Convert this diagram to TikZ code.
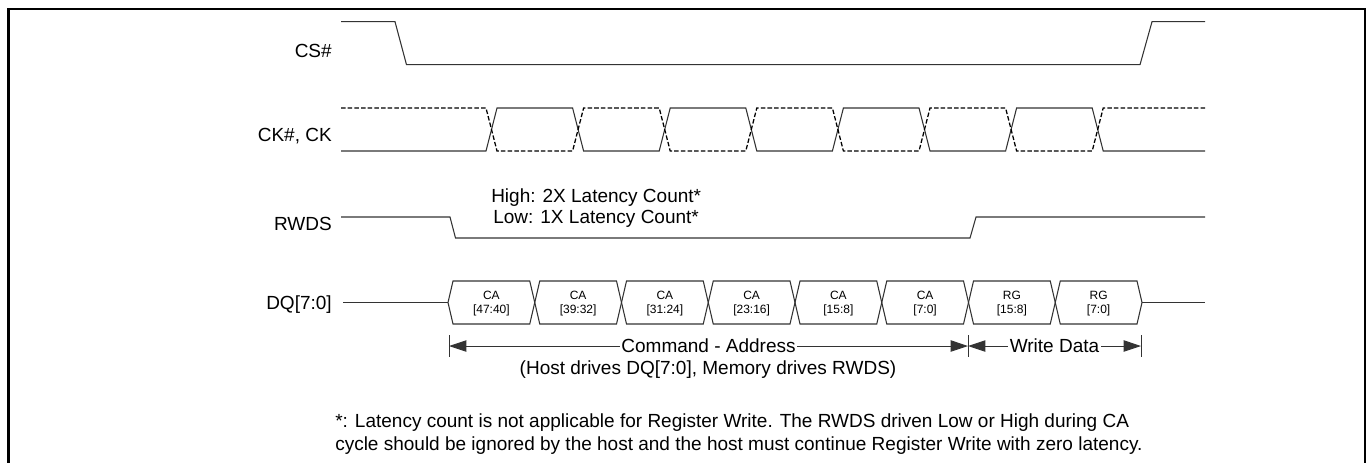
\documentclass[tikz,border=0pt]{standalone}
\usepackage{fontspec}
\setmainfont{Liberation Sans}
\usetikzlibrary{arrows.meta}
\newcommand\tdbig{\fontsize{14.25}{17}\selectfont}
\newcommand\tdsmall{\fontsize{9}{10.5}\selectfont}
\tikzset{
 sig/.style={draw=black!80, line width=0.8pt, line join=miter},
 sigd/.style={draw=black, line width=0.95pt, line join=miter, dash pattern=on 3.4pt off 1.6pt},
 lbl/.style={font=\tdbig, inner sep=0pt, anchor=base east},
 txt/.style={font=\tdbig, inner sep=0pt},
 cell/.style={font=\tdsmall, align=center, inner sep=0pt},
 dim/.style={draw=black!80, line width=0.7pt},
 dimarrow/.style={dim, {Triangle[length=13pt,width=8.5pt]}-{Triangle[length=13pt,width=8.5pt]}},
 dimtext/.style={font=\tdbig, fill=white, inner sep=1pt},
 frame/.style={draw=black, line width=1.6pt}
}
\begin{document}
\begin{tikzpicture}[x=0.75pt,y=-0.75pt]
\clip (0,0) rectangle (1369,462);
\draw[frame] (8.5,9) rectangle (1365,500);

% labels
\node[lbl] (lcs) at (332,57) {CS\#};
\node[lbl] (lck) at (332,141.5) {CK\#, CK};
\node[lbl] (lrw) at (332,230) {RWDS};
\node[lbl] (ldq) at (332,309) {DQ[7:0]};

% CS#
\draw[sig] (341,21.7) -- (395,21.7) -- (406.5,64.7) -- (1140,64.7) -- (1152,21.7) -- (1205,21.7);

% CK (solid) and CK# (dashed)
\draw[sig] (341,151)
  foreach \i in {0,...,7} {
    -- ({491.5+86.6*\i-5.5},{mod(\i,2)==0 ? 151 : 108})
    -- ({491.5+86.6*\i+5.5},{mod(\i,2)==0 ? 108 : 151})
  } -- (1205,151);
\draw[sigd] (341,108)
  foreach \i in {0,...,7} {
    -- ({491.5+86.6*\i-5.5},{mod(\i,2)==0 ? 108 : 151})
    -- ({491.5+86.6*\i+5.5},{mod(\i,2)==0 ? 151 : 108})
  } -- (1205,108);

% RWDS
\draw[sig] (341,217) -- (450,217) -- (455.5,238) -- (970,238) -- (976,217) -- (1205,217);
\node[txt, anchor=base west] (hi) at (491,202) {High: 2X Latency Count*};
\node[txt, anchor=base west] (lo) at (493,223) {Low: 1X Latency Count*};

% DQ
\draw[sig] (343,302.5) -- (448,302.5);
\draw[sig] (1142,302.5) -- (1205,302.5);
\foreach \j/\t in {0/{CA\\{}[47:40]}, 1/{CA\\{}[39:32]}, 2/{CA\\{}[31:24]}, 3/{CA\\{}[23:16]},
                   4/{CA\\{}[15:8]}, 5/{CA\\{}[7:0]}, 6/{RG\\{}[15:8]}, 7/{RG\\{}[7:0]}} {
  \pgfmathsetmacro\xa{448+86.75*\j}
  \pgfmathsetmacro\xb{448+86.75*(\j+1)}
  \draw[sig] (\xa,302.5) -- (\xa+5,281) -- (\xb-5,281) -- (\xb,302.5) -- (\xb-5,324) -- (\xa+5,324) -- cycle;
  \node[cell] (c\j) at ({(\xa+\xb)/2},303.5) {\t};
}

% dimension lines
\coordinate (t1) at (449,346);
\coordinate (t2) at (968,346);
\coordinate (t3) at (1141,346);
\foreach \c in {t1,t2,t3} { \draw[dim] ([yshift=8pt]\c) -- ([yshift=-8pt]\c); }
\draw[dimarrow] (t1) -- (t2) node[dimtext, midway] (ca) {Command - Address};
\draw[dimarrow] (t2) -- (t3) node[dimtext, midway] (wd) {Write Data};
\node[txt, anchor=base] (host) at (708,374) {(Host drives DQ[7:0], Memory drives RWDS)};

% footnote
\node[txt, anchor=base west] (fn1) at (335,427) {*: Latency count is not applicable for Register Write. The RWDS driven Low or High during CA};
\node[txt, anchor=base west] (fn2) at (335,450) {cycle should be ignored by the host and the host must continue Register Write with zero latency.};
\end{tikzpicture}
\end{document}
